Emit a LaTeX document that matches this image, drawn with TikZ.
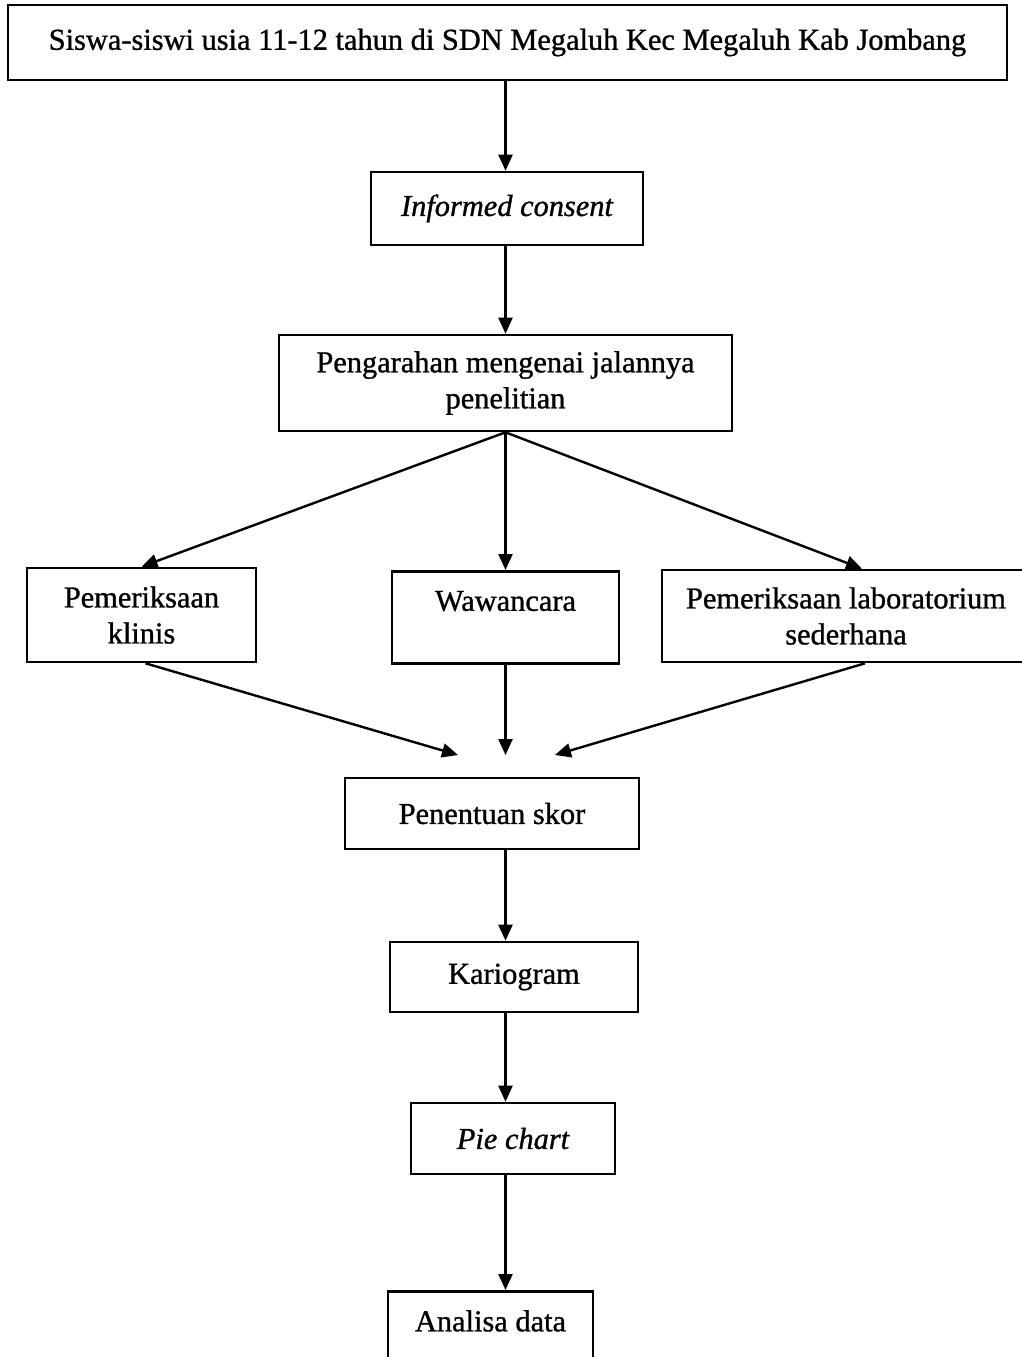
\documentclass[tikz,border=0pt]{standalone}
\usepackage{fontspec}
\setmainfont{Liberation Serif}[FakeBold=1]
\usetikzlibrary{arrows.meta}

\begin{document}
\begin{tikzpicture}[x=0.5pt, y=-0.5pt,
  flowbox/.style={draw, line width=1.3pt, inner sep=0pt, align=center,
    font=\fontsize{15.2}{18}\selectfont},
  flowarrow/.style={line width=1.2pt, -{Triangle[length=8pt, width=7pt]}}]
\useasboundingbox (0,0) rectangle (1022,1357);
% boxes
\node[flowbox, minimum width=499.5pt, minimum height=37.5pt] (pupils) at (507.5,42.5)
  {Siswa-siswi usia 11-12 tahun di SDN Megaluh Kec Megaluh Kab Jombang};
\node[flowbox, minimum width=136pt, minimum height=36.5pt] (consent) at (507,208.5)
  {\itshape Informed consent};
\node[flowbox, minimum width=226.5pt, minimum height=48pt] (brief) at (505.5,383)
  {Pengarahan mengenai jalannya\\penelitian};
\node[flowbox, minimum width=114.5pt, minimum height=47pt] (clinic) at (141.5,615)
  {Pemeriksaan\\klinis};
\node[flowbox, minimum width=113.5pt, text height=19.75pt, text depth=26.25pt,
  anchor=north] (interview) at (505.5,570) {Wawancara};
\node[flowbox, minimum width=184pt, minimum height=46pt] (lab) at (846,616)
  {Pemeriksaan laboratorium\\sederhana};
\node[flowbox, minimum width=147pt, minimum height=35.5pt] (score) at (492,813.5)
  {Penentuan skor};
\node[flowbox, minimum width=124pt, minimum height=35pt] (kario) at (514,977)
  {Kariogram};
\node[flowbox, minimum width=102pt, minimum height=35.5pt] (pie) at (513,1138.5)
  {\itshape Pie chart};
\node[flowbox, minimum width=102.5pt, text height=20pt, text depth=20pt,
  anchor=north] (analysis) at (490.5,1290) {Analisa data};
% free arrow ends above the score box
\coordinate (inL) at (458,755);
\coordinate (inM) at (505.5,755);
\coordinate (inR) at (555,755);
% arrows
\draw[flowarrow] (pupils.south -| inM) -- (consent.north -| inM);
\draw[flowarrow] (consent.south -| inM) -- (brief.north -| inM);
\draw[flowarrow] (brief.south) -- (clinic.north);
\draw[flowarrow] (brief.south) -- (interview.north);
\draw[flowarrow] (brief.south) -- ([xshift=8pt]lab.north);
\draw[flowarrow] ([xshift=2pt]clinic.south) -- (inL);
\draw[flowarrow] (interview.south) -- (inM);
\draw[flowarrow] ([xshift=9.5pt]lab.south) -- (inR);
\draw[flowarrow] (score.south -| inM) -- (kario.north -| inM);
\draw[flowarrow] (kario.south -| inM) -- (pie.north -| inM);
\draw[flowarrow] (pie.south -| inM) -- (analysis.north -| inM);
\end{tikzpicture}
\end{document}
